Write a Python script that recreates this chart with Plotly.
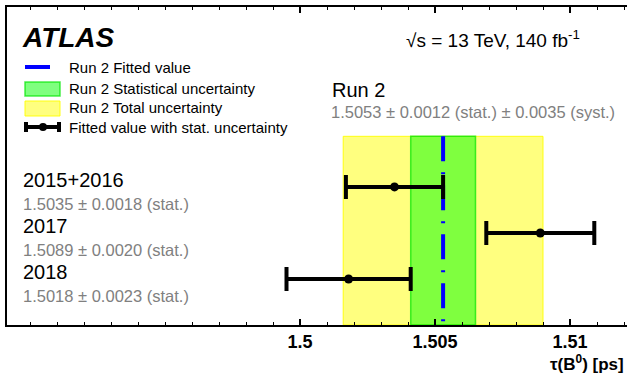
import plotly.graph_objects as go

# ---------------- data ----------------
periods = ["2015+2016", "2017", "2018"]
values = [1.5035, 1.5089, 1.5018]
stat_err = [0.0018, 0.0020, 0.0023]
ypos = [3, 2, 1]

run2_value = 1.5053
run2_stat = 0.0012
run2_syst = 0.0035

tick_vals = [1.5, 1.505, 1.51]
tick_text = ["1.5", "1.505", "1.51"]

run2_total = (run2_stat ** 2 + run2_syst ** 2) ** 0.5
band_top = 4.1

# ---------------- layout helpers (pixel -> paper) ----------------
W, H = 627, 381
L, R, T, B = 7, 0, 7, 56
PW, PH = W - L - R, H - T - B


def px(x):
    return (x - L) / PW


def py(y):
    return (H - B - y) / PH


FONT = "Liberation Sans, Arial, Helvetica, sans-serif"
GRAY = "#808080"

fig = go.Figure()

# Run 2 fitted value (dash-dot blue line)
fig.add_trace(go.Scatter(
    x=[run2_value, run2_value], y=[band_top, 0],
    mode="lines",
    line=dict(color="#0000ff", width=4, dash="25px,11px,2px,11px"),
    showlegend=False, hoverinfo="skip",
))

# Per-period fitted values with statistical uncertainty
fig.add_trace(go.Scatter(
    x=values, y=ypos, mode="markers",
    marker=dict(color="black", size=9),
    error_x=dict(type="data", array=stat_err, color="black", thickness=4, width=12),
    showlegend=False, hoverinfo="skip",
))

shapes = []
# total uncertainty band
shapes.append(dict(type="rect", xref="x", yref="y",
                   x0=run2_value - run2_total, x1=run2_value + run2_total,
                   y0=0, y1=band_top, layer="below",
                   fillcolor="rgba(255,255,0,0.5)",
                   line=dict(color="rgba(255,255,0,0.9)", width=1)))
# statistical uncertainty band
shapes.append(dict(type="rect", xref="x", yref="y",
                   x0=run2_value - run2_stat, x1=run2_value + run2_stat,
                   y0=0, y1=band_top, layer="below",
                   fillcolor="rgba(0,255,0,0.5)",
                   line=dict(color="rgba(0,230,0,0.7)", width=1.5)))

# ---------------- manual legend ----------------
shapes.append(dict(type="line", xref="paper", yref="paper",
                   x0=px(25), x1=px(50), y0=py(67), y1=py(67),
                   line=dict(color="#0000ff", width=4)))
shapes.append(dict(type="rect", xref="paper", yref="paper",
                   x0=px(25), x1=px(60), y0=py(82), y1=py(96),
                   fillcolor="rgba(0,255,0,0.5)",
                   line=dict(color="rgba(0,230,0,0.7)", width=1.5)))
shapes.append(dict(type="rect", xref="paper", yref="paper",
                   x0=px(25), x1=px(60), y0=py(101), y1=py(116),
                   fillcolor="rgba(255,255,0,0.5)",
                   line=dict(color="rgba(255,255,0,0.9)", width=1)))
shapes.append(dict(type="line", xref="paper", yref="paper",
                   x0=px(25), x1=px(60), y0=py(127), y1=py(127),
                   line=dict(color="black", width=4)))
for cx in (26, 59):
    shapes.append(dict(type="line", xref="paper", yref="paper",
                       x0=px(cx), x1=px(cx), y0=py(122), y1=py(132),
                       line=dict(color="black", width=4)))
shapes.append(dict(type="circle", xref="paper", yref="paper",
                   x0=px(39), x1=px(47), y0=py(123), y1=py(131),
                   fillcolor="black", line=dict(color="black", width=0)))

legend_labels = ["Run 2 Fitted value", "Run 2 Statistical uncertainty",
                 "Run 2 Total uncertainty", "Fitted value with stat. uncertainty"]
legend_y = [68, 88, 107, 127]

annotations = []
for lab, yy in zip(legend_labels, legend_y):
    annotations.append(dict(text=lab, xref="paper", yref="paper",
                            x=px(67), y=py(yy), xanchor="left", yanchor="middle",
                            showarrow=False, font=dict(family=FONT, size=15, color="black")))

annotations.append(dict(text="<b><i>ATLAS</i></b>", xref="paper", yref="paper",
                        x=px(20), y=py(38), xanchor="left", yanchor="middle",
                        showarrow=False, font=dict(family=FONT, size=28, color="black")))
annotations.append(dict(text="√s = 13 TeV, 140 fb<sup>-1</sup>", xref="paper", yref="paper",
                        x=px(404), y=py(39), xanchor="left", yanchor="middle",
                        showarrow=False, font=dict(family=FONT, size=19, color="black")))
annotations.append(dict(text="Run 2", xref="paper", yref="paper",
                        x=px(330), y=py(90), xanchor="left", yanchor="middle",
                        showarrow=False, font=dict(family=FONT, size=20, color="black")))
annotations.append(dict(
    text=f"{run2_value:.4f} ± {run2_stat:.4f} (stat.) ± {run2_syst:.4f} (syst.)",
    xref="paper", yref="paper", x=px(329), y=py(112), xanchor="left", yanchor="middle",
    showarrow=False, font=dict(family=FONT, size=16.5, color=GRAY)))

for name, v, e, yy in zip(periods, values, stat_err, ypos):
    annotations.append(dict(text=name, xref="paper", yref="y", x=px(21), y=yy,
                            yshift=7, xanchor="left", yanchor="middle", showarrow=False,
                            font=dict(family=FONT, size=20, color="black")))
    annotations.append(dict(text=f"{v:.4f} ± {e:.4f} (stat.)", xref="paper", yref="y",
                            x=px(21), y=yy, yshift=-17, xanchor="left", yanchor="middle",
                            showarrow=False, font=dict(family=FONT, size=16.5, color=GRAY)))

annotations.append(dict(text="<b>τ(B<sup>0</sup>) [ps]</b>", xref="paper", yref="paper",
                        x=px(626), y=py(363), xanchor="right", yanchor="middle",
                        showarrow=False, font=dict(family=FONT, size=17, color="black")))

fig.update_layout(
    width=W, height=H,
    margin=dict(l=L, r=R, t=T, b=B, pad=0),
    paper_bgcolor="white", plot_bgcolor="white",
    showlegend=False,
    shapes=shapes, annotations=annotations,
    xaxis=dict(range=[1.489148, 1.512111], showgrid=False, zeroline=False,
               showline=True, linecolor="black", linewidth=1.5, mirror="ticks",
               ticks="inside", ticklen=6, tickwidth=1.5, tickcolor="black",
               tickvals=tick_vals, ticktext=tick_text,
               tickfont=dict(family=FONT, size=18, color="black", weight="bold"),
               minor=dict(dtick=0.001, tick0=1.5, ticks="inside", ticklen=3.5,
                          tickwidth=1.2, tickcolor="black", showgrid=False)),
    yaxis=dict(range=[0, 6.91], showgrid=False, zeroline=False,
               showline=True, linecolor="black", linewidth=1.5,
               showticklabels=False, ticks=""),
)

fig.write_html("out.html", config={"displayModeBar": False},
               post_script="document.body.style.margin='0';")
